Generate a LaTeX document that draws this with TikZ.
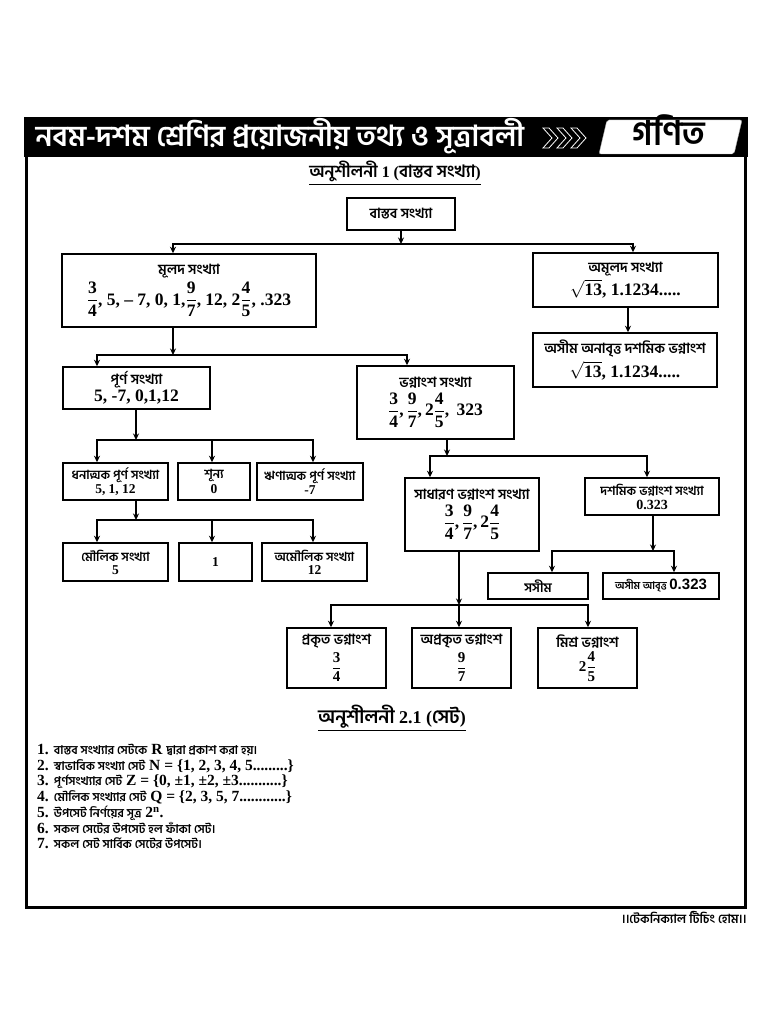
\documentclass[tikz,border=0pt]{standalone}
\usepackage{fontspec}
\usepackage{amsmath}
\setmainfont{Liberation Serif}
\newfontfamily\bn[Script=Bengali]{Hind Siliguri}
\newfontfamily\sansf{Liberation Sans}
\usetikzlibrary{arrows.meta,calc}
\newcommand\fr[2]{$\genfrac{}{}{1.1pt}{0}{\text{#1}}{\text{#2}}$}
\newcommand\bnti[1]{{\bn\bfseries\fontsize{14}{16}\selectfont #1}}
\newcommand\bnsm[1]{{\bn\bfseries\fontsize{12.5}{14}\selectfont #1}}
\newcommand\bnli[1]{{\bn\fontsize{12}{13}\selectfont #1}}
\newcommand\numL{\fontsize{17.5}{19}\selectfont}
\newcommand\numM{\fontsize{13.5}{15}\selectfont}
\newcommand\numF{\fontsize{15}{17}\selectfont}
\tikzset{
  box/.style={draw, line width=1.5pt, inner sep=0pt, align=center, font=\bfseries},
  arr/.style={line width=1.3pt, -{Stealth[length=6.5pt,width=6pt]}},
}
\begin{document}
\begin{tikzpicture}[x=1pt,y=-1pt]
\useasboundingbox[fill=white] (0,0) rectangle (768,1024);
% header and frame
\fill[black] (24,117) rectangle (748,157);
\draw[line width=3pt] (26,157) -- (26,907) -- (745,907) -- (745,157);
\node[anchor=west, text=white, font=\bn\bfseries\fontsize{29}{31}\selectfont] (hdr) at (32,136) {নবম-দশম শ্রেণির প্রয়োজনীয় তথ্য ও সূত্রাবলী};
\foreach \cx in {543,557,571}{
  \draw[white, fill=black, line width=0.8pt] (\cx,128) -- (\cx+6,128) -- (\cx+15,138) -- (\cx+6,148) -- (\cx,148) -- (\cx+9,138) -- cycle;
}
\draw[fill=white, draw=gray!60, rounded corners=2pt] (607,120) -- (742,120) -- (734,154) -- (599,154) -- cycle;
\node[anchor=base, inner sep=0pt, font=\bn\bfseries\fontsize{34}{36}\selectfont] (gonit) at (669,146) {গণিত};
% title 1
\node[font=\bfseries\fontsize{16}{18}\selectfont] (t1) at (395,173) {\underline{{\bn\fontsize{17}{19}\selectfont অনুশীলনী} 1 ({\bn\fontsize{17}{19}\selectfont বাস্তব সংখ্যা})}};
% boxes
\node[box, minimum width=108pt, minimum height=32pt] (root) at (401,214) {\bnti{বাস্তব সংখ্যা}};
\node[box, minimum width=254pt, minimum height=73pt] (mulad) at (189,290.5) {\bnti{মূলদ সংখ্যা}\\[3pt] {\numL\fr34, 5, – 7, 0, 1,\fr97, 12, 2\fr45, .323}};
\node[box, minimum width=185pt, minimum height=54pt] (amulad) at (625.5,280) {\bnti{অমূলদ সংখ্যা}\\[3pt] {\numL$\sqrt{\text{13}}$, 1.1234.....}};
\node[box, minimum width=184pt, minimum height=54pt] (asim) at (625,360) {\bnti{অসীম অনাবৃত্ত দশমিক ভগ্নাংশ}\\[3pt] {\numL$\sqrt{\text{13}}$, 1.1234.....}};
\node[box, minimum width=147pt, minimum height=42pt] (purna) at (136.5,388) {\bnti{পূর্ণ সংখ্যা}\\[1pt] {\numL 5, -7, 0,1,12}};
\node[box, minimum width=157pt, minimum height=73pt] (bhag) at (435.5,402.5) {\bnti{ভগ্নাংশ সংখ্যা}\\[3pt] {\numL\fr34,\,\fr97,\,2\fr45,\, 323}};
\node[box, minimum width=105pt, minimum height=37pt] (dhan) at (115.5,481.5) {\bnsm{ধনাত্মক পূর্ণ সংখ্যা}\\[1pt] {\numM 5, 1, 12}};
\node[box, minimum width=72pt, minimum height=37pt] (shunya) at (214,481.5) {\bnsm{শূন্য}\\[1pt] {\numM 0}};
\node[box, minimum width=106pt, minimum height=37pt] (rin) at (310,481.5) {\bnsm{ঋণাত্মক পূর্ণ সংখ্যা}\\[1pt] {\numM -7}};
\node[box, minimum width=105pt, minimum height=38pt] (mou) at (115.5,562) {\bnsm{মৌলিক সংখ্যা}\\[1pt] {\numM 5}};
\node[box, minimum width=73pt, minimum height=38pt] (one) at (215.5,562) {{\numM 1}};
\node[box, minimum width=105pt, minimum height=38pt] (amou) at (314.5,562) {\bnsm{অমৌলিক সংখ্যা}\\[1pt] {\numM 12}};
\node[box, minimum width=134pt, minimum height=73pt] (sadh) at (472,514.5) {\bnti{সাধারণ ভগ্নাংশ সংখ্যা}\\[3pt] {\numL\fr34,\,\fr97,\,2\fr45}};
\node[box, minimum width=134pt, minimum height=37pt] (dash) at (652,496.5) {{\bn\bfseries\fontsize{12.5}{14}\selectfont দশমিক ভগ্নাংশ সংখ্যা}\\[2pt] {\fontsize{14}{15}\selectfont 0.323}};
\node[box, minimum width=100pt, minimum height=26pt] (sasim) at (538,586) {{\bn\bfseries\fontsize{13}{15}\selectfont সসীম}};
\node[box, minimum width=116pt, minimum height=26pt] (asimab) at (661,586) {{\bn\bfseries\fontsize{10.5}{12}\selectfont অসীম আবৃত্ত} {\sansf\bfseries\fontsize{15}{17}\selectfont 0.323}};
\node[box, minimum width=99pt, minimum height=60pt] (prak) at (336.5,658) {\bnti{প্রকৃত ভগ্নাংশ}\\[3pt] {\numF\fr34}};
\node[box, minimum width=99pt, minimum height=60pt] (aprak) at (461.5,658) {\bnti{অপ্রকৃত ভগ্নাংশ}\\[3pt] {\numF\fr97}};
\node[box, minimum width=99pt, minimum height=60pt] (mishra) at (587.5,658) {\bnti{মিশ্র ভগ্নাংশ}\\[3pt] {\numF 2\fr45}};
% junctions
\coordinate (j1) at (401,244);
\coordinate (j2) at (173,355);
\coordinate (j3) at (136,440);
\coordinate (j4) at (136,520);
\coordinate (j5) at (447,456);
\coordinate (j6) at (653,551);
\coordinate (j7) at (459,605);
% connectors
\draw[arr] (root) -- (j1);
\draw[arr] (j1) -| ([xshift=-16pt]mulad.north);
\draw[arr] (j1) -| ([xshift=7.5pt]amulad.north);
\draw[arr] ([xshift=2.5pt]amulad.south) -- ([xshift=3pt]asim.north);
\draw[arr] ([xshift=-16pt]mulad.south) -- (j2);
\draw[arr] (j2) -| ([xshift=-39.5pt]purna.north);
\draw[arr] (j2) -| ([xshift=-28.5pt]bhag.north);
\draw[arr] ([xshift=-0.5pt]purna.south) -- (j3);
\draw[arr] (j3) -| ([xshift=-18.5pt]dhan.north);
\draw[arr] (j3) -| ([xshift=-2pt]shunya.north);
\draw[arr] (j3) -| ([xshift=3pt]rin.north);
\draw[arr] ([xshift=20.5pt]dhan.south) -- (j4);
\draw[arr] (j4) -| ([xshift=-18.5pt]mou.north);
\draw[arr] (j4) -| ([xshift=-3.5pt]one.north);
\draw[arr] (j4) -| ([xshift=-1.5pt]amou.north);
\draw[arr] ([xshift=11.5pt]bhag.south) -- (j5);
\draw[arr] (j5) -| ([xshift=-42pt]sadh.north);
\draw[arr] (j5) -| ([xshift=-5pt]dash.north);
\draw[arr] ([xshift=1pt]dash.south) -- (j6);
\draw[arr] (j6) -| ([xshift=14pt]sasim.north);
\draw[arr] (j6) -| ([xshift=13pt]asimab.north);
\draw[arr] ([xshift=-13pt]sadh.south) -- (j7);
\draw[arr] (j7) -| ([xshift=-5.5pt]prak.north);
\draw[arr] (j7) -| ([xshift=-2.5pt]aprak.north);
\draw[arr] (j7) -| ([xshift=0.5pt]mishra.north);
% section 2
\node[font=\bfseries\fontsize{18}{20}\selectfont] (t2) at (392,718) {\underline{{\bn\fontsize{19}{21}\selectfont অনুশীলনী} 2.1 ({\bn\fontsize{19}{21}\selectfont সেট})}};
\node[anchor=north west, align=left, inner sep=0pt, font=\bfseries\fontsize{15.5}{15.7}\selectfont] (list) at (37,744) {%
1. \bnli{বাস্তব সংখ্যার সেটকে} R \bnli{দ্বারা প্রকাশ করা হয়।}\\
2. \bnli{স্বাভাবিক সংখ্যা সেট} N = \{1, 2, 3, 4, 5.........\}\\
3. \bnli{পূর্ণসংখ্যার সেট} Z = \{0, ±1, ±2, ±3...........\}\\
4. \bnli{মৌলিক সংখ্যার সেট} Q = \{2, 3, 5, 7............\}\\
5. \bnli{উপসেট নির্ণয়ের সূত্র} 2\textsuperscript{n}.\\
6. \bnli{সকল সেটের উপসেট হল ফাঁকা সেট।}\\
7. \bnli{সকল সেট সার্বিক সেটের উপসেট।}};
\node[anchor=east, font=\bn\bfseries\fontsize{12.5}{14}\selectfont] (foot) at (750,917) {।।টেকনিক্যাল টিচিং হোম।।};
\end{tikzpicture}
\end{document}
